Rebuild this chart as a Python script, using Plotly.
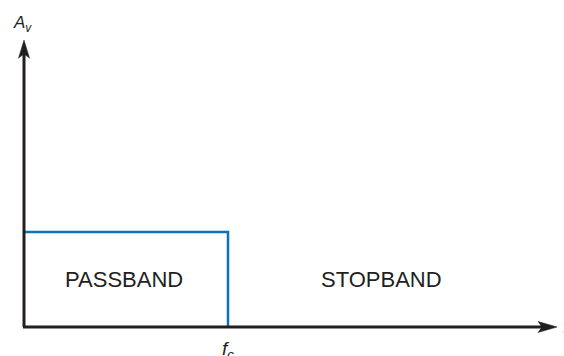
import plotly.graph_objects as go

# ---- data (normalized units: fc = 1, passband gain = 1) ----
cutoff_freq = 1.0
passband_gain = 1.0
response_x = [0.0, cutoff_freq, cutoff_freq]
response_y = [passband_gain, passband_gain, 0.0]
band_labels = ["PASSBAND", "STOPBAND"]
band_label_x = [0.49, 1.75]
band_label_y = [0.5, 0.5]
x_axis_end = 2.613
y_axis_end = 3.02

W, H = 564, 356
INK = "#231f20"
BLUE = "#0b72b8"
FONT = "Liberation Sans, Arial, Helvetica, sans-serif"

fig = go.Figure()
fig.add_trace(go.Scatter(x=response_x, y=response_y, mode="lines",
                         line=dict(color=BLUE, width=2.5), hoverinfo="skip",
                         showlegend=False))

shapes = [
    # x axis line
    dict(type="line", xref="x", yref="y", x0=-0.005, y0=0, x1=x_axis_end - 0.06, y1=0,
         line=dict(color=INK, width=3), layer="above"),
    # y axis line
    dict(type="line", xref="x", yref="y", x0=0, y0=0, x1=0, y1=y_axis_end - 0.12,
         line=dict(color=INK, width=3), layer="above"),
    # x arrowhead
    dict(type="path", xref="x", yref="y", xsizemode="pixel", ysizemode="pixel",
         xanchor=x_axis_end, yanchor=0,
         path="M0,0 L-19,5.5 L-15,0 L-19,-5.5 Z",
         fillcolor=INK, line=dict(color=INK, width=0.5), layer="above"),
    # y arrowhead
    dict(type="path", xref="x", yref="y", xsizemode="pixel", ysizemode="pixel",
         xanchor=0, yanchor=y_axis_end,
         path="M0,0 L-5.5,-18 L0,-14 L5.5,-18 Z",
         fillcolor=INK, line=dict(color=INK, width=0.5), layer="above"),
]

annotations = []
for lab, lx, ly in zip(band_labels, band_label_x, band_label_y):
    annotations.append(dict(x=lx, y=ly, xref="x", yref="y", text=lab, showarrow=False,
                            font=dict(family=FONT, size=22, color=INK),
                            xanchor="center", yanchor="middle"))
annotations.append(dict(x=11 / W, y=1 - 11 / H, xref="paper", yref="paper",
                        text="<i>A</i><sub><i>v</i></sub>",
                        showarrow=False, font=dict(family=FONT, size=17, color=INK),
                        xanchor="left", yanchor="top"))
annotations.append(dict(x=cutoff_freq, y=-0.09, xref="x", yref="y", text="<i>f</i><sub><i>c</i></sub>",
                        showarrow=False, font=dict(family=FONT, size=19, color=INK),
                        xanchor="center", yanchor="top"))
annotations.append(dict(x=x_axis_end + 0.02, y=0, xref="x", yref="y", text="<i>f</i>",
                        showarrow=False, font=dict(family=FONT, size=16, color="#999999"),
                        xanchor="left", yanchor="middle"))

fig.update_layout(
    width=W, height=H, margin=dict(l=0, r=0, t=0, b=0),
    paper_bgcolor="white", plot_bgcolor="white",
    xaxis=dict(range=[-24 / 204, 540 / 204], visible=False, fixedrange=True),
    yaxis=dict(range=[-29 / 95, 327 / 95], visible=False, fixedrange=True),
    shapes=shapes, annotations=annotations, showlegend=False,
)
fig.write_html("out.html", config={"displayModeBar": False, "staticPlot": True},
               post_script="document.body.style.margin='0';document.body.style.overflow='hidden';")
